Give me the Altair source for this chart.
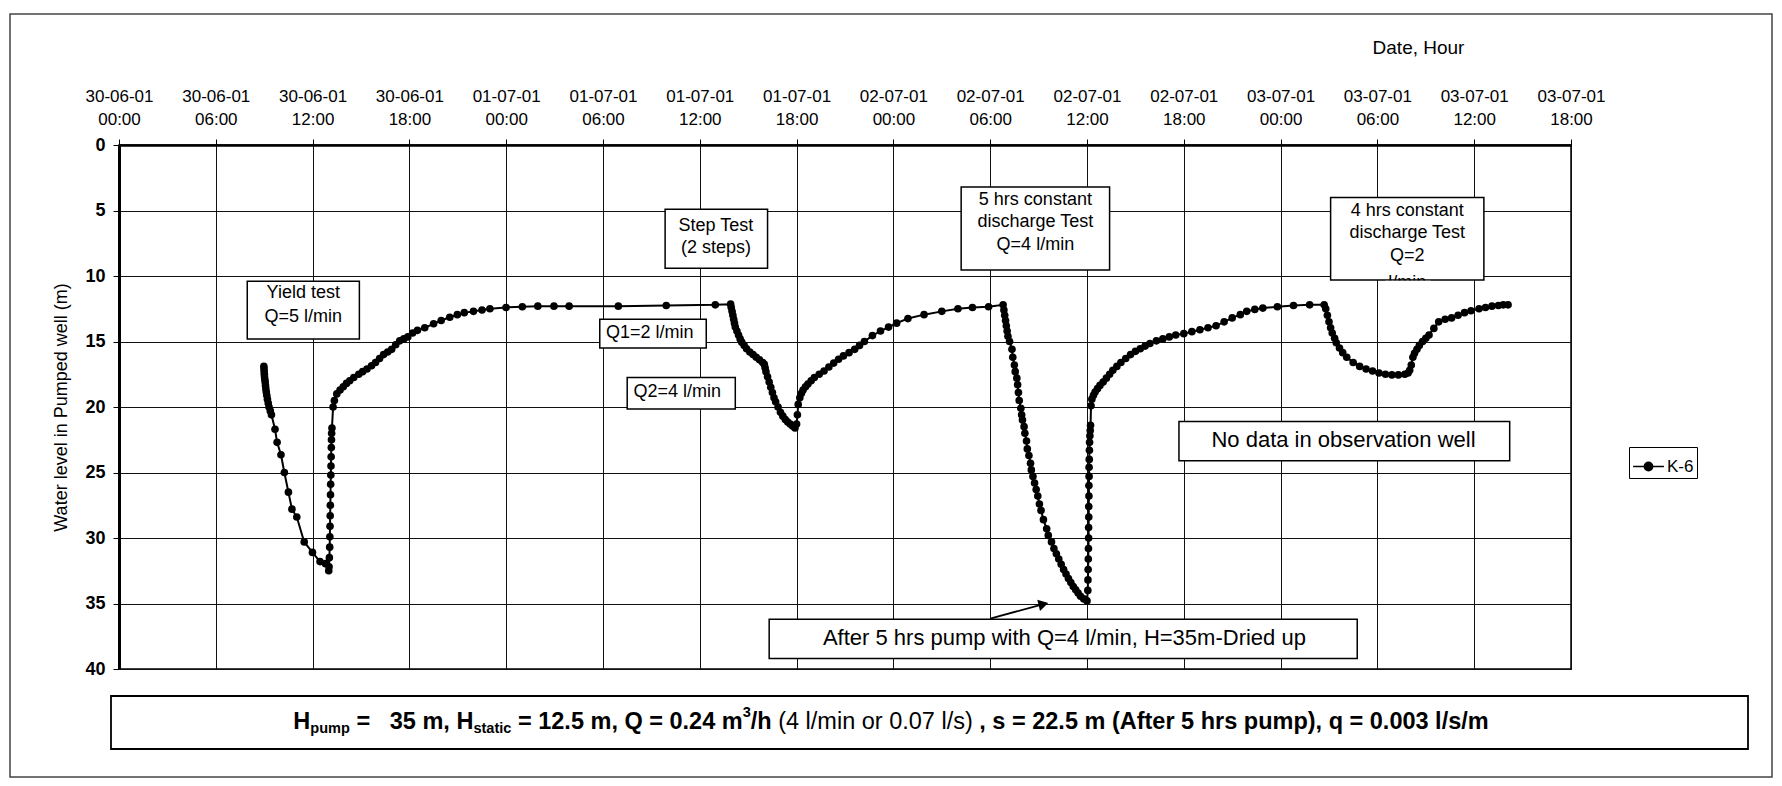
import json
import altair as alt
import pandas as pd

FONT = "Liberation Sans"

# ---------------- data: pumped well K-6 -----------------------------------
# (hours elapsed since 30-06-01 00:00, water level in pumped well in m)
yield_test = [
    (8.98, 16.9), (8.99, 17.1), (9.0, 17.3), (9.01, 17.5), (9.02, 17.7), (9.04, 17.9),
    (9.06, 18.1), (9.08, 18.35), (9.1, 18.6), (9.13, 18.85), (9.16, 19.1), (9.2, 19.4),
    (9.25, 19.7), (9.3, 20.0), (9.38, 20.3), (9.45, 20.6), (9.67, 21.7), (9.8, 22.7),
    (10.04, 23.65), (10.25, 25.0), (10.5, 26.5), (10.72, 27.8), (11.02, 28.4), (11.48, 30.3),
    (11.99, 31.1), (12.46, 31.8), (12.8, 31.96), (13.0, 32.5),
]
yield_recovery = [
    (13.02, 32.2), (13.04, 31.5), (13.06, 30.7), (13.07, 29.9), (13.08, 29.1), (13.09, 28.3),
    (13.1, 27.5), (13.11, 26.7), (13.12, 25.9), (13.13, 25.2), (13.14, 24.5), (13.15, 23.8),
    (13.16, 23.1), (13.17, 22.5), (13.18, 22.0), (13.2, 21.6), (13.27, 20.0), (13.35, 19.5),
    (13.5, 19.0), (13.7, 18.7), (13.9, 18.45), (14.1, 18.2), (14.3, 18.0), (14.55, 17.75),
    (14.86, 17.5), (15.1, 17.3), (15.37, 17.1), (15.65, 16.85), (15.9, 16.6), (16.15, 16.3),
    (16.4, 16.0), (16.65, 15.8), (16.9, 15.6), (17.15, 15.25), (17.4, 14.95), (17.65, 14.8),
    (17.9, 14.65), (18.2, 14.35), (18.5, 14.15), (18.95, 13.95), (19.5, 13.65), (19.97, 13.4),
    (20.5, 13.15), (20.97, 12.95), (21.4, 12.8), (21.97, 12.7), (22.5, 12.6), (22.99, 12.5),
    (23.99, 12.4), (25.0, 12.35), (25.96, 12.3), (26.96, 12.3), (27.9, 12.3), (30.95, 12.3),
    (33.92, 12.25), (36.96, 12.2), (37.91, 12.15),
]
step_test = [
    (37.95, 12.4), (38.0, 12.7), (38.05, 13.0), (38.1, 13.3), (38.15, 13.6), (38.2, 13.9),
    (38.3, 14.2), (38.4, 14.5), (38.5, 14.8), (38.6, 15.05), (38.75, 15.3), (38.9, 15.55),
    (39.1, 15.8), (39.3, 16.0), (39.5, 16.2), (39.7, 16.4), (39.9, 16.6), (40.0, 16.75),
    (40.05, 17.0), (40.1, 17.3), (40.2, 17.7), (40.3, 18.1), (40.4, 18.5), (40.5, 18.9),
    (40.6, 19.3), (40.7, 19.6), (40.85, 20.0), (41.0, 20.4), (41.15, 20.7), (41.3, 20.95),
    (41.45, 21.15), (41.6, 21.3), (41.75, 21.45), (41.9, 21.6),
]
step_recovery = [
    (42.0, 21.3), (42.05, 20.6), (42.1, 19.8), (42.2, 19.3), (42.3, 18.95), (42.4, 18.7),
    (42.55, 18.45), (42.7, 18.25), (42.9, 18.0), (43.1, 17.75), (43.4, 17.5), (43.7, 17.25),
    (44.0, 16.95), (44.3, 16.65), (44.6, 16.35), (44.9, 16.1), (45.25, 15.85), (45.6, 15.6),
    (45.9, 15.3), (46.2, 15.0), (46.7, 14.55), (47.2, 14.2), (47.7, 13.9), (48.2, 13.6),
    (48.9, 13.25), (49.9, 12.95), (51.0, 12.7), (52.0, 12.5), (52.9, 12.4), (53.9, 12.35),
    (54.8, 12.2),
]
test_5h = [
    (54.85, 12.6), (54.9, 13.0), (54.95, 13.4), (55.0, 13.8), (55.05, 14.2), (55.1, 14.6),
    (55.2, 15.0), (55.35, 15.6), (55.4, 16.2), (55.5, 16.8), (55.55, 17.3), (55.65, 17.8),
    (55.7, 18.3), (55.75, 18.9), (55.8, 19.5), (55.9, 20.1), (55.95, 20.6), (56.0, 21.0),
    (56.1, 21.5), (56.15, 22.0), (56.25, 22.6), (56.3, 23.2), (56.4, 23.7), (56.5, 24.3),
    (56.55, 24.8), (56.65, 25.3), (56.75, 25.8), (56.85, 26.3), (56.95, 26.8), (57.05, 27.4),
    (57.15, 27.9), (57.3, 28.6), (57.5, 29.3), (57.6, 29.8), (57.8, 30.3), (57.95, 30.8),
    (58.1, 31.2), (58.25, 31.6), (58.4, 32.0), (58.55, 32.4), (58.7, 32.75), (58.85, 33.1),
    (59.0, 33.4), (59.15, 33.7), (59.3, 33.95), (59.45, 34.2), (59.6, 34.45), (59.8, 34.65),
    (60.0, 34.8),
]
recovery_5h = [
    (60.05, 34.0), (60.06, 33.2), (60.07, 32.4), (60.08, 31.6), (60.09, 30.8), (60.1, 30.0),
    (60.1, 29.2), (60.11, 28.4), (60.11, 27.6), (60.12, 26.8), (60.12, 26.0), (60.13, 25.3),
    (60.13, 24.6), (60.14, 24.0), (60.15, 23.3), (60.16, 22.7), (60.18, 22.2), (60.2, 21.8),
    (60.22, 21.4), (60.25, 19.9), (60.3, 19.4), (60.4, 19.1), (60.5, 18.85), (60.65, 18.6),
    (60.8, 18.35), (61.0, 18.1), (61.2, 17.8), (61.4, 17.5), (61.6, 17.2), (61.85, 16.9),
    (62.1, 16.6), (62.4, 16.3), (62.7, 16.0), (63.0, 15.75), (63.3, 15.55), (63.6, 15.35),
    (63.9, 15.15), (64.3, 14.95), (64.7, 14.8), (65.1, 14.65), (65.5, 14.5), (66.0, 14.4),
    (66.5, 14.25), (67.0, 14.1), (67.5, 13.95), (68.0, 13.8), (68.5, 13.5), (69.0, 13.2),
    (69.5, 12.95), (69.9, 12.7), (70.4, 12.55), (70.9, 12.45), (71.8, 12.35), (72.8, 12.25),
    (73.8, 12.2), (74.7, 12.2),
]
test_4h = [
    (74.8, 12.5), (74.9, 13.0), (75.0, 13.5), (75.1, 13.95), (75.2, 14.35), (75.35, 14.75),
    (75.45, 15.1), (75.65, 15.5), (75.85, 15.85), (76.1, 16.2), (76.5, 16.6), (76.9, 16.9),
    (77.3, 17.1), (77.7, 17.25), (78.1, 17.4), (78.5, 17.5), (78.9, 17.55), (79.3, 17.55),
    (79.7, 17.5), (79.9, 17.4), (80.0, 17.2),
]
recovery_4h = [
    (80.1, 16.8), (80.2, 16.2), (80.3, 15.9), (80.45, 15.6), (80.6, 15.3), (80.8, 15.0),
    (81.0, 14.75), (81.2, 14.5), (81.5, 14.0), (81.8, 13.5), (82.2, 13.3), (82.6, 13.2),
    (83.0, 13.0), (83.4, 12.8), (83.8, 12.65), (84.3, 12.5), (84.7, 12.4), (85.1, 12.3),
    (85.5, 12.25), (85.8, 12.2), (86.1, 12.2),
]
series_name = "K-6"

# x-axis ticks (hours) and their two-line labels
tick_hours = [0, 6, 12, 18, 24, 30, 36, 42, 48, 54, 60, 66, 72, 78, 84, 90]
tick_dates = ["30-06-01", "30-06-01", "30-06-01", "30-06-01",
              "01-07-01", "01-07-01", "01-07-01", "01-07-01",
              "02-07-01", "02-07-01", "02-07-01", "02-07-01",
              "03-07-01", "03-07-01", "03-07-01", "03-07-01"]
tick_times = ["00:00", "06:00", "12:00", "18:00"] * 4
y_ticks = [0, 5, 10, 15, 20, 25, 30, 35, 40]

# annotation boxes (hours, metres)
box_x1 = [7.95, 29.8, 31.5, 33.85, 52.2, 75.1, 65.7, 40.3]
box_x2 = [14.9, 36.4, 38.2, 40.2, 61.4, 84.6, 86.2, 76.75]
box_y1 = [10.4, 13.3, 17.75, 4.9, 3.2, 4.0, 21.1, 36.2]
box_y2 = [14.8, 15.5, 20.15, 9.4, 9.55, 10.3, 24.1, 39.2]

note_text = ["Yield test", "Q=5 l/min", "Q1=2 l/min", "Q2=4 l/min", "Step Test", "(2 steps)",
             "5 hrs constant", "discharge Test", "Q=4 l/min",
             "4 hrs constant", "discharge Test", "Q=2", "l/min",
             "No data in observation well",
             "After 5 hrs pump with Q=4 l/min, H=35m-Dried up"]
note_x = [11.42, 11.42, 32.9, 34.6, 37.0, 37.0, 56.8, 56.8, 56.8,
          79.85, 79.85, 79.85, 79.85, 75.9, 58.6]
note_y = [11.3, 13.1, 14.35, 18.85, 6.2, 7.9, 4.2, 5.9, 7.6,
          5.0, 6.75, 8.5, 10.55, 22.5, 37.65]
note_size = [18, 18, 18, 18, 18, 18, 18, 18, 18, 18, 18, 18, 18, 22, 22]

# ---------------- geometry -------------------------------------------------
W, H = 1452, 524
PAD_L, PAD_T = 111, 137
PAD_R = 1766 - W - PAD_L
PAD_B = 770 - H - PAD_T

xs = alt.Scale(domain=[0, 90], nice=False, zero=False)
ys = alt.Scale(domain=[0, 40], nice=False, zero=False, reverse=True)

labels = [[d, t] for d, t in zip(tick_dates, tick_times)]
label_expr = f"{json.dumps(labels)}[indexof({json.dumps(tick_hours)}, datum.value)]"

pts = yield_test + yield_recovery + step_test + step_recovery + test_5h + recovery_5h \
    + test_4h + recovery_4h
df = pd.DataFrame({"h": [p[0] for p in pts], "lvl": [p[1] for p in pts],
                   "idx": range(len(pts)), "well": series_name})

x_axis = alt.Axis(orient="top", values=tick_hours, labelExpr=label_expr, labelFont=FONT,
                  labelFontSize=17, labelColor="black", labelLineHeight=23, labelPadding=34,
                  labelAngle=0, labelAlign="center", tickSize=6, tickColor="black", tickWidth=1,
                  domainColor="black", domainWidth=2.5, grid=True, gridColor="#111", gridWidth=1,
                  title="Date, Hour", titleFont=FONT, titleFontSize=19, titleFontWeight="normal",
                  titleColor="black", titleX=1299, titleY=-98, titleAlign="center",
                  titleBaseline="middle", labelFlush=False, labelOverlap=False)
y_axis = alt.Axis(orient="left", values=y_ticks, labelFont=FONT, labelFontSize=18,
                  labelFontWeight="bold", labelColor="black", labelPadding=8, tickSize=6,
                  tickColor="black", domainColor="black", domainWidth=3, grid=True,
                  gridColor="#111", gridWidth=1, title="Water level in Pumped well (m)",
                  titleFont=FONT, titleFontSize=18, titleFontWeight="normal", titleColor="black",
                  titleX=-58, titleY=H / 2, titleAngle=270, titleAlign="center",
                  titleBaseline="middle")


def X(field):
    return alt.X(field, scale=xs, axis=x_axis)


def Y(field):
    return alt.Y(field, scale=ys, axis=y_axis)


line = alt.Chart(df).mark_line(color="black", strokeWidth=2).encode(
    x=X("h:Q"), y=Y("lvl:Q"), order="idx:Q",
)

legend_symbol = "M-1,0H1M0.27,0A0.27,0.27,0,1,1,-0.27,0A0.27,0.27,0,1,1,0.27,0Z"
points = alt.Chart(df).mark_point(filled=True, size=58, opacity=1).encode(
    x=X("h:Q"), y=Y("lvl:Q"),
    color=alt.Color("well:N", scale=alt.Scale(range=["black"]),
                    legend=alt.Legend(title=None, orient="none", legendX=1510, legendY=302,
                                      symbolType=legend_symbol, symbolSize=950,
                                      symbolStrokeColor="black", symbolStrokeWidth=1.5,
                                      symbolFillColor="black", labelFont=FONT,
                                      labelFontSize=17, labelColor="black", strokeColor="black",
                                      padding=3, labelOffset=2)),
)

boxes_df = pd.DataFrame({"x1": box_x1, "x2": box_x2, "y1": box_y1, "y2": box_y2})
boxes = alt.Chart(boxes_df).mark_rect(fill="white", stroke="black", strokeWidth=1.5).encode(
    x=X("x1:Q"), x2="x2:Q", y=Y("y1:Q"), y2="y2:Q",
)

notes_df = pd.DataFrame({"x": note_x, "y": note_y, "t": note_text, "s": note_size})
notes = alt.Chart(notes_df).mark_text(font=FONT, color="black", align="center",
                                      baseline="middle").encode(
    x=X("x:Q"), y=Y("y:Q"), text="t:N",
    size=alt.Size("s:Q", scale=None, legend=None),
)

# white strip hiding the lower half of the clipped "l/min" line
cover_df = pd.DataFrame({"x1": [78.5], "x2": [81.3], "y1": [10.37], "y2": [11.3]})
cover = alt.Chart(cover_df).mark_rect(fill="white", strokeWidth=0).encode(
    x=X("x1:Q"), x2="x2:Q", y=Y("y1:Q"), y2="y2:Q",
)

arrow_df = pd.DataFrame({"x1": [54.0], "y1": [36.15], "x2": [57.3], "y2": [35.05]})
arrow_line = alt.Chart(arrow_df).mark_rule(color="black", strokeWidth=1.8).encode(
    x=X("x1:Q"), x2="x2:Q", y=Y("y1:Q"), y2="y2:Q",
)
arrow_head = alt.Chart(arrow_df).mark_point(shape="triangle-right", filled=True, size=130,
                                             color="black", opacity=1, angle=346).encode(
    x=X("x2:Q"), y=Y("y2:Q"),
)

# ---------------- summary line under the chart (pixel layout) -------------
REG = {" ": 278, "(": 333, ")": 333, ",": 278, "-": 333, ".": 278, "/": 278, "=": 584,
       "A": 667, "H": 722, "Q": 778, "a": 556, "c": 500, "e": 556, "f": 278, "h": 556,
       "i": 222, "l": 222, "m": 833, "n": 556, "o": 556, "p": 556, "q": 556, "r": 333,
       "s": 500, "t": 278, "u": 556}
BOLD = {" ": 278, "(": 333, ")": 333, ",": 278, "-": 333, ".": 278, "/": 278, "=": 584,
        "A": 722, "H": 722, "Q": 778, "a": 556, "c": 556, "e": 556, "f": 333, "h": 611,
        "i": 278, "l": 278, "m": 889, "n": 611, "o": 611, "p": 611, "q": 611, "r": 389,
        "s": 556, "t": 333, "u": 611}
for d in "0123456789":
    REG[d] = 556
    BOLD[d] = 556


def text_width(s, size, bold):
    tab = BOLD if bold else REG
    return sum(tab[c] for c in s) * size / 1000.0


F = 23.5
summary_parts = [
    ("H", 1.0, True, 0.0), ("pump", 0.62, True, 0.30), (" =", 1.0, True, 0.0),
    ("   35 m, H", 1.0, True, 0.0), ("static", 0.62, True, 0.30),
    (" = 12.5 m, Q = 0.24 m", 1.0, True, 0.0), ("3", 0.62, True, -0.38), ("/h", 1.0, True, 0.0),
    (" (4 l/min or 0.07 l/s)", 1.0, False, 0.0),
    (" , s = 22.5 m (After 5 hrs pump), q = 0.003 l/s/m", 1.0, True, 0.0),
]
total = sum(text_width(t, F * k, b) for t, k, b, _ in summary_parts)
cursor = 772 - total / 2
cy = 722 - 145
rows = []
for t, k, b, dy in summary_parts:
    size = F * k
    lead = len(t) - len(t.lstrip(" "))
    rows.append({"px": cursor + text_width(" " * lead, size, b), "py": cy + dy * F,
                 "t": t.strip(), "s": size, "bold": b})
    cursor += text_width(t, size, b)
sum_df = pd.DataFrame(rows)

summary_box = alt.Chart(pd.DataFrame({"a": [0]})).mark_rect(
    fill="white", stroke="black", strokeWidth=1.8).encode(
    x=alt.value(111 - 119), x2=alt.value(1748 - 119),
    y=alt.value(696 - 145), y2=alt.value(749 - 145),
)
frame = alt.Chart(pd.DataFrame({"a": [0]})).mark_rect(
    filled=False, stroke="#444", strokeWidth=1.5).encode(
    x=alt.value(10 - 119), x2=alt.value(1772 - 119),
    y=alt.value(14 - 145), y2=alt.value(777 - 145),
)


def summary_layer(bold):
    return alt.Chart(sum_df[sum_df["bold"] == bold]).mark_text(
        font=FONT, color="black", align="left", baseline="middle",
        fontWeight="bold" if bold else "normal").encode(
        x=alt.X("px:Q", scale=None, axis=None),
        y=alt.Y("py:Q", scale=None, axis=None),
        text="t:N",
        size=alt.Size("s:Q", scale=None, legend=None),
    )


chart = alt.layer(
    frame, line, points, boxes, notes, cover, arrow_line, arrow_head,
    summary_box, summary_layer(True), summary_layer(False),
).properties(
    width=W, height=H,
    padding={"left": PAD_L, "top": PAD_T, "right": PAD_R, "bottom": PAD_B},
    autosize=alt.AutoSizeParams(type="none"),
    background="white",
).configure_view(stroke="black", strokeWidth=1.5)

chart.save("out.html", embed_options={"renderer": "svg", "actions": False})
